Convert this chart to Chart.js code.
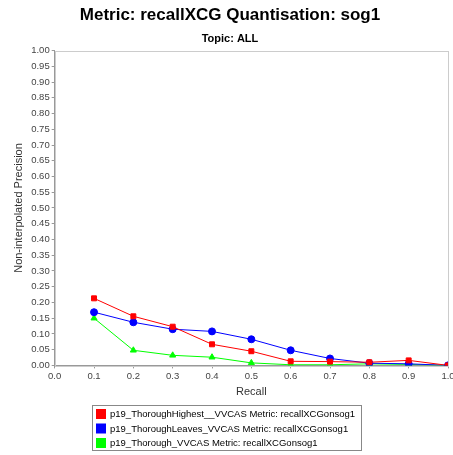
<!DOCTYPE html>
<html>
<head>
<meta charset="utf-8">
<script src="https://cdn.jsdelivr.net/npm/chart.js@4.4.1/dist/chart.umd.min.js"></script>
<style>
  html, body { margin: 0; padding: 0; background: #fff; }
</style>
</head>
<body>
<canvas id="chart" width="453" height="455"></canvas>
<script>
// recall points on the x axis
const recall = [0.1, 0.2, 0.3, 0.4, 0.5, 0.6, 0.7, 0.8, 0.9, 1.0];

// precision values
const highest = [0.213, 0.156, 0.123, 0.067, 0.045, 0.013, 0.012, 0.010, 0.016, 0.0];
const leaves  = [0.169, 0.137, 0.115, 0.108, 0.083, 0.048, 0.022, 0.007, 0.005, 0.0];
const thorough = [0.150, 0.048, 0.032, 0.026, 0.008, 0.002, 0.002, 0.005, 0.003, 0.0];

const seriesNames = [
    'p19_ThoroughHighest__VVCAS Metric: recallXCGonsog1',
    'p19_ThoroughLeaves_VVCAS Metric: recallXCGonsog1',
    'p19_Thorough_VVCAS Metric: recallXCGonsog1'
];
const seriesColors = ['#ff0000', '#0000ff', '#00ff00'];
const seriesPoints = ['rect', 'circle', 'triangle'];

const FONT = '"Liberation Sans", Arial, sans-serif';

function toXY(vals) {
    return vals.map((v, i) => ({x: recall[i], y: v}));
}

// light grey outline round the plot
const plotOutline = {
    id: 'plotOutline',
    beforeDatasetsDraw(chart) {
        const a = chart.chartArea;
        const ctx = chart.ctx;
        ctx.save();
        ctx.strokeStyle = '#cccccc';
        ctx.lineWidth = 1;
        ctx.strokeRect(Math.round(a.left) + 0.5, Math.round(a.top) + 0.5,
            Math.round(a.right - a.left), Math.round(a.bottom - a.top));
        ctx.restore();
    }
};

// boxed legend under the chart, like the original
const boxLegend = {
    id: 'boxLegend',
    afterDraw(chart) {
        const ctx = chart.ctx;
        const x0 = 92, y0 = 405, w = 269, h = 45;
        ctx.save();
        ctx.strokeStyle = '#888888';
        ctx.lineWidth = 1;
        ctx.strokeRect(x0 + 0.5, y0 + 0.5, w, h);
        ctx.font = '9.5px ' + FONT;
        ctx.textBaseline = 'middle';
        chart.data.datasets.forEach((ds, i) => {
            const cy = y0 + 9 + i * 14.5;
            ctx.fillStyle = ds.borderColor;
            ctx.fillRect(x0 + 4, cy - 5, 10, 10);
            ctx.fillStyle = '#000000';
            ctx.fillText(ds.label, x0 + 18, cy + 0.5);
        });
        ctx.restore();
    }
};

const chart = new Chart(document.getElementById('chart'), {
    type: 'line',
    data: {
        datasets: [highest, leaves, thorough].map((vals, i) => ({
            label: seriesNames[i],
            data: toXY(vals),
            borderColor: seriesColors[i],
            backgroundColor: seriesColors[i],
            borderWidth: 1,
            pointStyle: seriesPoints[i],
            pointRadius: 3.5,
            pointHoverRadius: 3.5,
            tension: 0,
            fill: false
        }))
    },
    options: {
        responsive: false,
        animation: false,
        devicePixelRatio: 1,
        layout: {padding: {left: 12, right: 5, top: 0, bottom: 56}},
        plugins: {
            legend: {display: false},
            tooltip: {enabled: false},
            title: {
                display: true,
                text: 'Metric: recallXCG Quantisation: sog1',
                color: '#000',
                font: {family: FONT, size: 17, weight: 'bold'},
                padding: {top: 5, bottom: 7}
            },
            subtitle: {
                display: true,
                text: 'Topic: ALL',
                color: '#000',
                font: {family: FONT, size: 11, weight: 'bold'},
                padding: {top: 0, bottom: 5}
            }
        },
        scales: {
            x: {
                type: 'linear',
                min: 0,
                max: 1,
                afterFit(scale) { scale.paddingRight = 5; },
                ticks: {
                    stepSize: 0.1,
                    autoSkip: false,
                    maxRotation: 0,
                    color: '#444',
                    font: {family: FONT, size: 9.5},
                    padding: 2,
                    callback: v => v.toFixed(1)
                },
                grid: {display: true, drawOnChartArea: false, drawTicks: true, tickLength: 3, color: '#999'},
                border: {color: '#999'},
                title: {
                    display: true,
                    text: 'Recall',
                    color: '#333',
                    font: {family: FONT, size: 11},
                    padding: {top: 2, bottom: 0}
                }
            },
            y: {
                min: 0,
                max: 1,
                ticks: {
                    stepSize: 0.05,
                    autoSkip: false,
                    color: '#444',
                    font: {family: FONT, size: 9.5},
                    padding: 2,
                    callback: v => v.toFixed(2)
                },
                grid: {display: true, drawOnChartArea: false, drawTicks: true, tickLength: 3, color: '#999'},
                border: {color: '#999'},
                title: {
                    display: true,
                    text: 'Non-interpolated Precision',
                    color: '#333',
                    font: {family: FONT, size: 11},
                    padding: {top: 0, bottom: 4}
                }
            }
        }
    },
    plugins: [plotOutline, boxLegend]
});
</script>
</body>
</html>
